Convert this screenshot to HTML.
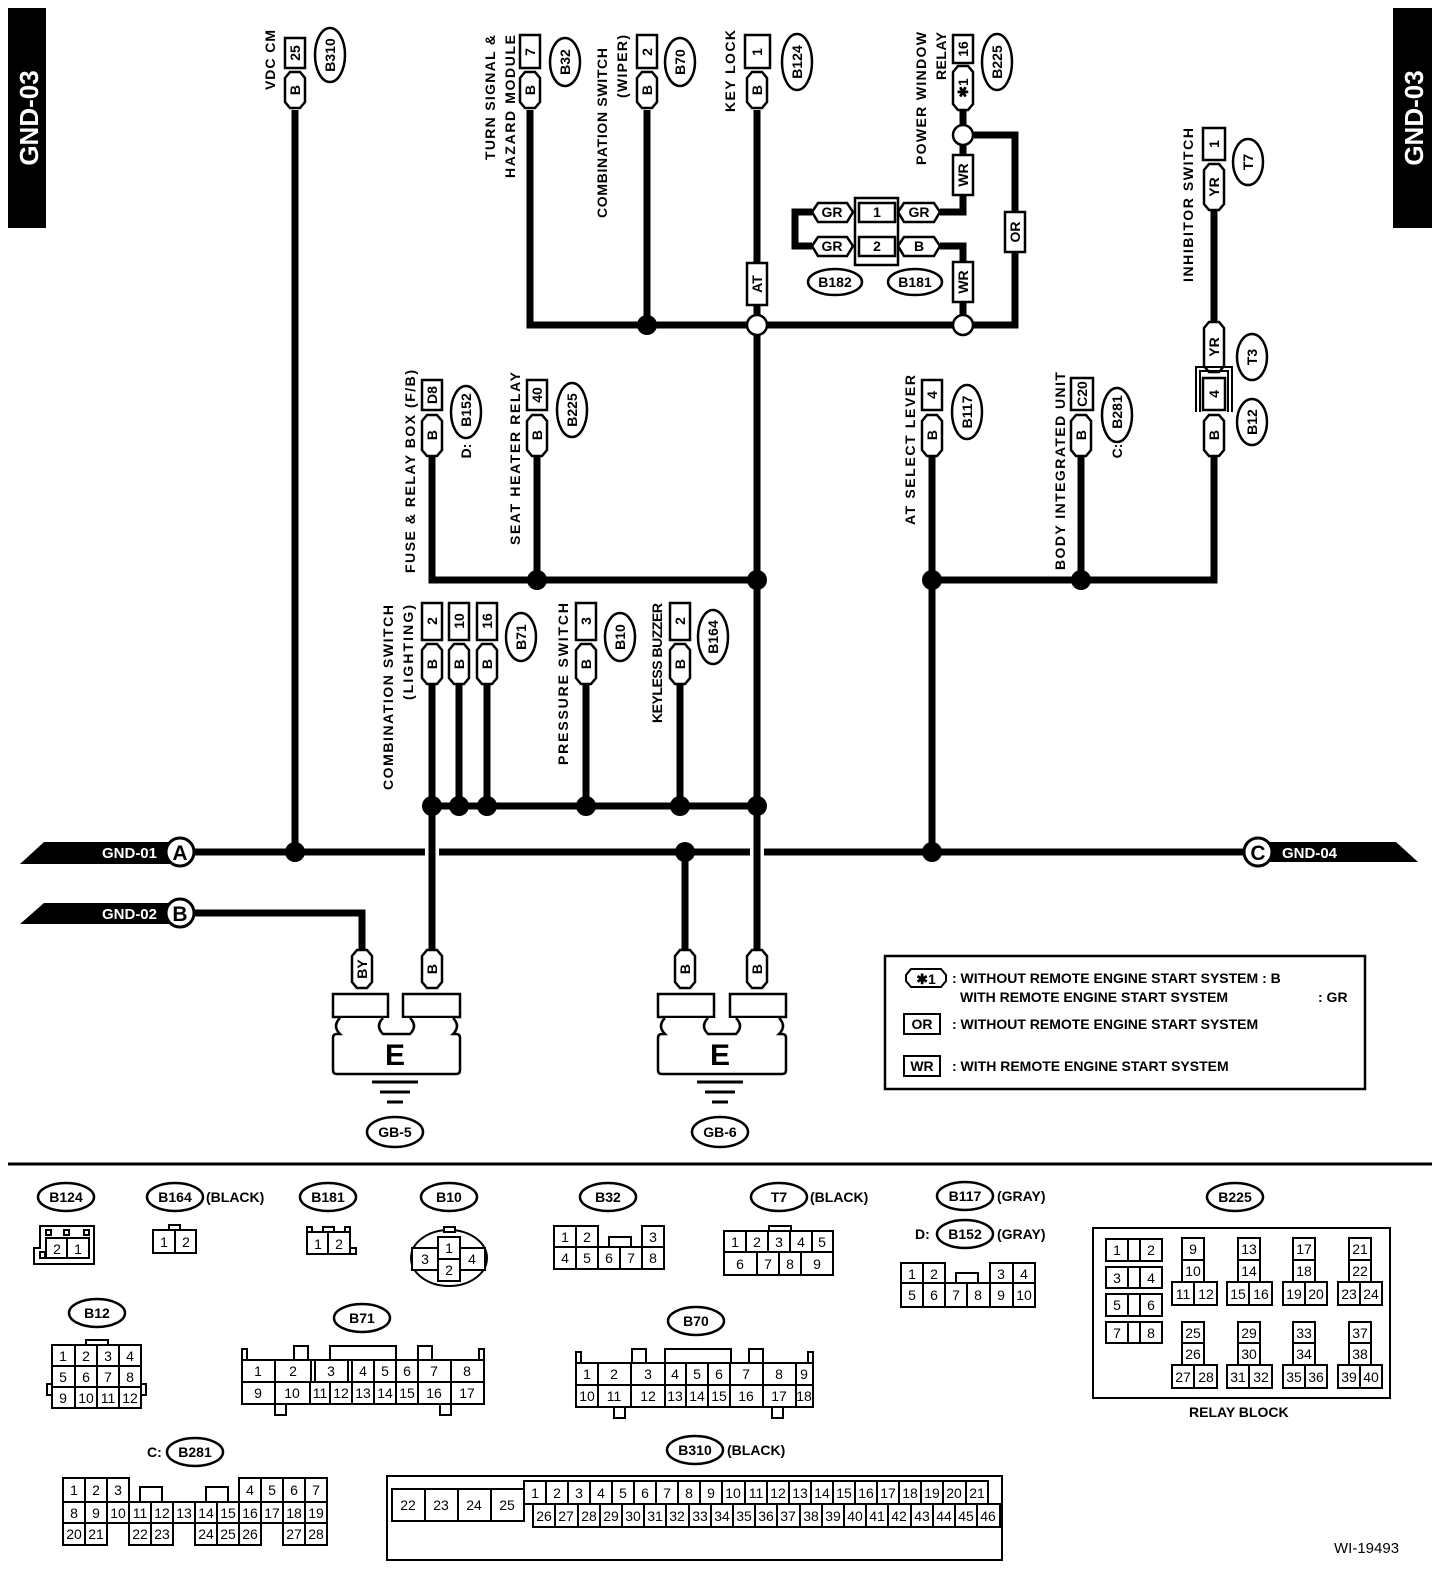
<!DOCTYPE html>
<html><head><meta charset="utf-8"><style>
html,body{margin:0;padding:0;background:#fff}
svg{display:block;font-family:"Liberation Sans",Arial,sans-serif}
.w{stroke:#000;stroke-width:7;fill:none}
.o{stroke:#000;stroke-width:2.5;fill:#fff}
.c{stroke:#000;stroke-width:2;fill:#fff}
.t{font-weight:bold;font-size:14px}
.n{font-size:14px;text-anchor:middle}
.b{font-weight:bold;font-size:14px;text-anchor:middle}
</style></head><body>
<svg width="1456" height="1570" viewBox="0 0 1456 1570" xmlns="http://www.w3.org/2000/svg">
<rect width="1456" height="1570" fill="#fff"/>
<!-- side tabs -->
<rect x="8" y="8" width="38" height="220" fill="#000"/>
<text transform="translate(38,118) rotate(-90)" fill="#fff" font-size="26" font-weight="bold" text-anchor="middle">GND-03</text>
<rect x="1393" y="8" width="39" height="220" fill="#000"/>
<text transform="translate(1423,118) rotate(-90)" fill="#fff" font-size="26" font-weight="bold" text-anchor="middle">GND-03</text>

<!-- WIRES -->
<g class="w">
<path d="M195,852 H425 M439,852 H750 M764,852 H1243"/>
<path d="M195,913 H362 V950"/>
<path d="M295,110 V852"/>
<path d="M530,110 V325 H1015 V135 H974"/>
<path d="M647,110 V325"/>
<path d="M757,110 V950"/>
<path d="M963,110 V212 H940"/>
<path d="M940,246 H963 V325"/>
<path d="M812,212 H795 V246 H812"/>
<path d="M432,456 V580 H757"/>
<path d="M537,456 V580"/>
<path d="M932,456 V852"/>
<path d="M932,580 H1214 V456"/>
<path d="M1081,456 V580"/>
<path d="M1214,210 V322"/>
<path d="M432,684 V950"/>
<path d="M459,684 V806 M487,684 V806 M586,684 V806 M680,684 V806"/>
<path d="M432,806 H757"/>
<path d="M685,852 V950"/>
</g>
<!-- dots -->
<g fill="#000">
<circle cx="295" cy="852" r="10"/><circle cx="647" cy="325" r="10"/>
<circle cx="537" cy="580" r="10"/><circle cx="757" cy="580" r="10"/>
<circle cx="432" cy="806" r="10"/><circle cx="459" cy="806" r="10"/><circle cx="487" cy="806" r="10"/>
<circle cx="586" cy="806" r="10"/><circle cx="680" cy="806" r="10"/><circle cx="757" cy="806" r="10"/>
<circle cx="685" cy="852" r="10"/><circle cx="932" cy="852" r="10"/>
<circle cx="932" cy="580" r="10"/><circle cx="1081" cy="580" r="10"/>
</g>
<g class="o">
<circle cx="757" cy="325" r="10"/><circle cx="963" cy="325" r="10"/><circle cx="963" cy="135" r="10"/>
</g>

<!-- GND flags -->
<polygon points="20,864 44,842 170,842 170,864" fill="#000"/>
<text x="157" y="858" fill="#fff" font-size="15" font-weight="bold" text-anchor="end">GND-01</text>
<circle cx="180" cy="852" r="14" fill="#fff" stroke="#000" stroke-width="3"/>
<text x="180" y="860" font-size="21" font-weight="bold" text-anchor="middle">A</text>
<polygon points="20,924 44,903 170,903 170,924" fill="#000"/>
<text x="157" y="919" fill="#fff" font-size="15" font-weight="bold" text-anchor="end">GND-02</text>
<circle cx="180" cy="913" r="14" fill="#fff" stroke="#000" stroke-width="3"/>
<text x="180" y="921" font-size="21" font-weight="bold" text-anchor="middle">B</text>
<polygon points="1268,842 1396,842 1418,862 1268,862" fill="#000"/>
<text x="1282" y="858" fill="#fff" font-size="15" font-weight="bold">GND-04</text>
<circle cx="1258" cy="852" r="14" fill="#fff" stroke="#000" stroke-width="3"/>
<text x="1258" y="860" font-size="21" font-weight="bold" text-anchor="middle">C</text>

<!-- helper shapes: pin boxes (rect), wire tags (hex) -->
<g class="o">
<!-- top row -->
<rect x="285" y="38" width="20" height="30"/>
<path d="M285,78 l5,-6 h10 l5,6 v24 l-5,6 h-10 l-5,-6z"/>
<rect x="520" y="35" width="20" height="33"/>
<path d="M520,78 l5,-6 h10 l5,6 v24 l-5,6 h-10 l-5,-6z"/>
<rect x="637" y="35" width="20" height="33"/>
<path d="M637,78 l5,-6 h10 l5,6 v24 l-5,6 h-10 l-5,-6z"/>
<rect x="745" y="35" width="25" height="33"/>
<path d="M747,78 l5,-6 h10 l5,6 v24 l-5,6 h-10 l-5,-6z"/>
<rect x="953" y="35" width="20" height="28"/>
<path d="M953,72 l5,-6 h10 l5,6 v32 l-5,6 h-10 l-5,-6z"/>
<rect x="953" y="155" width="20" height="40"/>
<rect x="953" y="262" width="20" height="40"/>
<rect x="1005" y="212" width="20" height="40"/>
<rect x="747" y="263" width="20" height="42"/>
<!-- B182/B181 -->
<path d="M812,212 l6,-9 h29 l6,9 l-6,10 h-29z"/>
<path d="M812,246 l6,-9 h29 l6,9 l-6,10 h-29z"/>
<path d="M898,212 l6,-9 h30 l6,9 l-6,10 h-30z"/>
<path d="M898,246 l6,-9 h30 l6,9 l-6,10 h-30z"/>
<rect x="855" y="198" width="43" height="67"/>
<rect x="859" y="203" width="36" height="19"/>
<rect x="859" y="237" width="36" height="19"/>
<!-- inhibitor -->
<rect x="1203" y="128" width="22" height="32"/>
<path d="M1204,170 l5,-6 h10 l5,6 v34 l-5,6 h-10 l-5,-6z"/>
<path d="M1204,328 l5,-6 h10 l5,6 v38 l-5,6 h-10 l-5,-6z"/>
<rect x="1203" y="378" width="22" height="32"/>
<path d="M1204,421 l5,-6 h10 l5,6 v29 l-5,6 h-10 l-5,-6z"/>
<!-- middle row -->
<rect x="422" y="380" width="20" height="30"/>
<path d="M422,421 l5,-6 h10 l5,6 v29 l-5,6 h-10 l-5,-6z"/>
<rect x="527" y="380" width="20" height="30"/>
<path d="M527,421 l5,-6 h10 l5,6 v29 l-5,6 h-10 l-5,-6z"/>
<rect x="922" y="380" width="20" height="30"/>
<path d="M922,421 l5,-6 h10 l5,6 v29 l-5,6 h-10 l-5,-6z"/>
<rect x="1071" y="378" width="22" height="32"/>
<path d="M1071,421 l5,-6 h10 l5,6 v29 l-5,6 h-10 l-5,-6z"/>
<!-- lower row -->
<rect x="422" y="603" width="20" height="37"/>
<rect x="449" y="603" width="20" height="37"/>
<rect x="477" y="603" width="20" height="37"/>
<path d="M422,650 l5,-6 h10 l5,6 v28 l-5,6 h-10 l-5,-6z"/>
<path d="M449,650 l5,-6 h10 l5,6 v28 l-5,6 h-10 l-5,-6z"/>
<path d="M477,650 l5,-6 h10 l5,6 v28 l-5,6 h-10 l-5,-6z"/>
<rect x="576" y="603" width="20" height="37"/>
<path d="M576,650 l5,-6 h10 l5,6 v28 l-5,6 h-10 l-5,-6z"/>
<rect x="670" y="603" width="20" height="37"/>
<path d="M670,650 l5,-6 h10 l5,6 v28 l-5,6 h-10 l-5,-6z"/>
<!-- ground tags -->
<path d="M352,956 l5,-6 h10 l5,6 v26 l-5,6 h-10 l-5,-6z"/>
<path d="M422,956 l5,-6 h10 l5,6 v26 l-5,6 h-10 l-5,-6z"/>
<path d="M675,956 l5,-6 h10 l5,6 v26 l-5,6 h-10 l-5,-6z"/>
<path d="M747,956 l5,-6 h10 l5,6 v26 l-5,6 h-10 l-5,-6z"/>
<rect x="333" y="994" width="55" height="23"/>
<rect x="403" y="994" width="57" height="23"/>
<rect x="658" y="994" width="56" height="23"/>
<rect x="730" y="994" width="56" height="23"/>
<path d="M340,1018 Q332,1026 340,1034 H337 Q333,1034 333,1038 V1070 Q333,1074 337,1074 H456 Q460,1074 460,1070 V1038 Q460,1034 456,1034 H453 Q461,1026 453,1018 M383,1018 Q375,1026 383,1034 H410 Q418,1026 410,1018"/>
<path d="M665,1018 Q657,1026 665,1034 H662 Q658,1034 658,1038 V1070 Q658,1074 662,1074 H782 Q786,1074 786,1070 V1038 Q786,1034 782,1034 H779 Q787,1026 779,1018 M708,1018 Q700,1026 708,1034 H736 Q744,1026 736,1018"/>
</g>
<!-- bracket at B12 -->
<path d="M1196,412 V367 H1232 V412 M1200,412 V371 H1228 V412" fill="none" stroke="#000" stroke-width="2"/>
<!-- ground symbols -->
<g stroke="#000" stroke-width="3">
<path d="M372,1082 H418 M380,1092 H410 M387,1102 H403"/>
<path d="M697,1082 H743 M705,1092 H735 M712,1102 H728"/>
</g>
<text x="395" y="1065" font-size="30" font-weight="bold" text-anchor="middle">E</text>
<text x="720" y="1065" font-size="30" font-weight="bold" text-anchor="middle">E</text>

<!-- ovals -->
<g fill="#fff" stroke="#000" stroke-width="2.5">
<ellipse cx="330" cy="55" rx="15" ry="27"/>
<ellipse cx="565" cy="62" rx="15" ry="24"/>
<ellipse cx="680" cy="62" rx="15" ry="24"/>
<ellipse cx="797" cy="62" rx="15" ry="28"/>
<ellipse cx="997" cy="62" rx="15" ry="28"/>
<ellipse cx="835" cy="282" rx="27" ry="13"/>
<ellipse cx="915" cy="282" rx="27" ry="13"/>
<ellipse cx="1248" cy="162" rx="15" ry="23"/>
<ellipse cx="1252" cy="357" rx="15" ry="23"/>
<ellipse cx="1252" cy="422" rx="15" ry="23"/>
<ellipse cx="466" cy="412" rx="15" ry="26"/>
<ellipse cx="572" cy="410" rx="15" ry="27"/>
<ellipse cx="967" cy="412" rx="15" ry="27"/>
<ellipse cx="1117" cy="415" rx="15" ry="27"/>
<ellipse cx="521" cy="637" rx="15" ry="24"/>
<ellipse cx="620" cy="637" rx="15" ry="24"/>
<ellipse cx="713" cy="637" rx="15" ry="27"/>
<ellipse cx="395" cy="1132" rx="28" ry="15"/>
<ellipse cx="720" cy="1132" rx="28" ry="15"/>
</g>

<!-- rotated texts: pins/tags -->
<g class="b">
<text transform="translate(300,53) rotate(-90)">25</text>
<text transform="translate(300,90) rotate(-90)">B</text>
<text transform="translate(335,55) rotate(-90)">B310</text>
<text transform="translate(535,52) rotate(-90)">7</text>
<text transform="translate(535,90) rotate(-90)">B</text>
<text transform="translate(570,62) rotate(-90)">B32</text>
<text transform="translate(652,52) rotate(-90)">2</text>
<text transform="translate(652,90) rotate(-90)">B</text>
<text transform="translate(685,62) rotate(-90)">B70</text>
<text transform="translate(762,52) rotate(-90)">1</text>
<text transform="translate(762,90) rotate(-90)">B</text>
<text transform="translate(802,62) rotate(-90)">B124</text>
<text transform="translate(968,49) rotate(-90)">16</text>
<text transform="translate(968,88) rotate(-90)">✱1</text>
<text transform="translate(1002,62) rotate(-90)">B225</text>
<text transform="translate(968,175) rotate(-90)">WR</text>
<text transform="translate(968,282) rotate(-90)">WR</text>
<text transform="translate(1020,232) rotate(-90)">OR</text>
<text transform="translate(762,284) rotate(-90)">AT</text>
<text transform="translate(1219,144) rotate(-90)">1</text>
<text transform="translate(1219,187) rotate(-90)">YR</text>
<text transform="translate(1253,162) rotate(-90)">T7</text>
<text transform="translate(1219,347) rotate(-90)">YR</text>
<text transform="translate(1219,394) rotate(-90)">4</text>
<text transform="translate(1219,435) rotate(-90)">B</text>
<text transform="translate(1257,357) rotate(-90)">T3</text>
<text transform="translate(1257,422) rotate(-90)">B12</text>
<text transform="translate(437,395) rotate(-90)">D8</text>
<text transform="translate(437,435) rotate(-90)">B</text>
<text transform="translate(471,410) rotate(-90)">B152</text>
<text transform="translate(471,451) rotate(-90)">D:</text>
<text transform="translate(542,395) rotate(-90)">40</text>
<text transform="translate(542,435) rotate(-90)">B</text>
<text transform="translate(577,410) rotate(-90)">B225</text>
<text transform="translate(937,395) rotate(-90)">4</text>
<text transform="translate(937,435) rotate(-90)">B</text>
<text transform="translate(972,412) rotate(-90)">B117</text>
<text transform="translate(1087,394) rotate(-90)">C20</text>
<text transform="translate(1086,435) rotate(-90)">B</text>
<text transform="translate(1122,412) rotate(-90)">B281</text>
<text transform="translate(1122,451) rotate(-90)">C:</text>
<text transform="translate(437,621) rotate(-90)">2</text>
<text transform="translate(464,621) rotate(-90)">10</text>
<text transform="translate(492,621) rotate(-90)">16</text>
<text transform="translate(437,664) rotate(-90)">B</text>
<text transform="translate(464,664) rotate(-90)">B</text>
<text transform="translate(492,664) rotate(-90)">B</text>
<text transform="translate(526,637) rotate(-90)">B71</text>
<text transform="translate(591,621) rotate(-90)">3</text>
<text transform="translate(591,664) rotate(-90)">B</text>
<text transform="translate(625,637) rotate(-90)">B10</text>
<text transform="translate(685,621) rotate(-90)">2</text>
<text transform="translate(685,664) rotate(-90)">B</text>
<text transform="translate(718,637) rotate(-90)">B164</text>
<text transform="translate(367,969) rotate(-90)">BY</text>
<text transform="translate(437,969) rotate(-90)">B</text>
<text transform="translate(690,969) rotate(-90)">B</text>
<text transform="translate(762,969) rotate(-90)">B</text>
</g>
<g class="b">
<text x="832" y="217">GR</text><text x="832" y="251">GR</text>
<text x="877" y="217">1</text><text x="877" y="251">2</text>
<text x="919" y="217">GR</text><text x="919" y="251">B</text>
<text x="835" y="287">B182</text><text x="915" y="287">B181</text>
<text x="395" y="1137">GB-5</text><text x="720" y="1137">GB-6</text>
</g>

<!-- rotated labels -->
<g class="t">
<text transform="translate(275,90) rotate(-90)" textLength="60">VDC CM</text>
<text transform="translate(495,160) rotate(-90)" textLength="125">TURN SIGNAL &amp;</text>
<text transform="translate(515,178) rotate(-90)" textLength="143">HAZARD MODULE</text>
<text transform="translate(607,218) rotate(-90)" textLength="170">COMBINATION SWITCH</text>
<text transform="translate(627,98) rotate(-90)" textLength="63">(WIPER)</text>
<text transform="translate(735,112) rotate(-90)" textLength="82">KEY LOCK</text>
<text transform="translate(926,165) rotate(-90)" textLength="133">POWER WINDOW</text>
<text transform="translate(946,80) rotate(-90)" textLength="48">RELAY</text>
<text transform="translate(1193,282) rotate(-90)" textLength="154">INHIBITOR SWITCH</text>
<text transform="translate(415,573) rotate(-90)" textLength="203">FUSE &amp; RELAY BOX (F/B)</text>
<text transform="translate(520,545) rotate(-90)" textLength="173">SEAT HEATER RELAY</text>
<text transform="translate(915,525) rotate(-90)" textLength="150">AT SELECT LEVER</text>
<text transform="translate(1065,570) rotate(-90)" textLength="198">BODY INTEGRATED UNIT</text>
<text transform="translate(393,790) rotate(-90)" textLength="185">COMBINATION SWITCH</text>
<text transform="translate(413,700) rotate(-90)" textLength="95">(LIGHTING)</text>
<text transform="translate(568,765) rotate(-90)" textLength="162">PRESSURE SWITCH</text>
<text transform="translate(662,723) rotate(-90)" textLength="120">KEYLESS BUZZER</text>
</g>

<!-- legend -->
<rect x="885" y="956" width="480" height="133" fill="none" stroke="#000" stroke-width="2.5"/>
<path d="M906,975 l5,-6 h30 l5,6 v6 l-5,6 h-30 l-5,-6z" fill="#fff" stroke="#000" stroke-width="2"/>
<text x="926" y="984" class="b">✱1</text>
<rect x="904" y="1014" width="36" height="20" fill="#fff" stroke="#000" stroke-width="2"/>
<text x="922" y="1029" class="b">OR</text>
<rect x="904" y="1056" width="36" height="20" fill="#fff" stroke="#000" stroke-width="2"/>
<text x="922" y="1071" class="b">WR</text>
<g class="t" font-size="15">
<text x="952" y="983">: WITHOUT REMOTE ENGINE START SYSTEM : B</text>
<text x="960" y="1002">WITH REMOTE ENGINE START SYSTEM</text>
<text x="1318" y="1002">: GR</text>
<text x="952" y="1029">: WITHOUT REMOTE ENGINE START SYSTEM</text>
<text x="952" y="1071">: WITH REMOTE ENGINE START SYSTEM</text>
</g>

<!-- separator -->
<path d="M8,1164 H1432" stroke="#000" stroke-width="3"/>

<!-- bottom connector ovals & titles -->
<g fill="#fff" stroke="#000" stroke-width="2.5">
<ellipse cx="66" cy="1197" rx="28" ry="14"/>
<ellipse cx="175" cy="1197" rx="28" ry="14"/>
<ellipse cx="328" cy="1197" rx="28" ry="14"/>
<ellipse cx="449" cy="1197" rx="28" ry="14"/>
<ellipse cx="608" cy="1197" rx="28" ry="14"/>
<ellipse cx="779" cy="1197" rx="28" ry="14"/>
<ellipse cx="965" cy="1196" rx="28" ry="14"/>
<ellipse cx="965" cy="1234" rx="28" ry="14"/>
<ellipse cx="1235" cy="1197" rx="28" ry="14"/>
<ellipse cx="97" cy="1313" rx="28" ry="14"/>
<ellipse cx="362" cy="1318" rx="28" ry="14"/>
<ellipse cx="696" cy="1321" rx="28" ry="14"/>
<ellipse cx="195" cy="1452" rx="28" ry="14"/>
<ellipse cx="695" cy="1450" rx="28" ry="14"/>
</g>
<g class="b">
<text x="66" y="1202">B124</text><text x="175" y="1202">B164</text><text x="328" y="1202">B181</text>
<text x="449" y="1202">B10</text><text x="608" y="1202">B32</text><text x="779" y="1202">T7</text>
<text x="965" y="1201">B117</text><text x="965" y="1239">B152</text><text x="1235" y="1202">B225</text>
<text x="97" y="1318">B12</text><text x="362" y="1323">B71</text><text x="696" y="1326">B70</text>
<text x="195" y="1457">B281</text><text x="695" y="1455">B310</text>
</g>
<g class="t">
<text x="206" y="1202">(BLACK)</text><text x="810" y="1202">(BLACK)</text>
<text x="997" y="1201">(GRAY)</text><text x="997" y="1239">(GRAY)</text>
<text x="915" y="1239">D:</text><text x="147" y="1457">C:</text>
<text x="727" y="1455">(BLACK)</text>
<text x="1189" y="1417">RELAY BLOCK</text>
<text x="1334" y="1553" font-weight="normal" font-size="15">WI-19493</text>
</g>

<!-- bottom connector grids -->
<g class="c">
<!-- B124 -->
<path d="M40,1226 H94 V1264 H34 V1248 H40 Z"/>
<rect x="46" y="1238" width="21" height="20"/><rect x="67" y="1238" width="22" height="20"/>
<rect x="46" y="1230" width="5" height="5"/><rect x="64" y="1230" width="5" height="5"/><rect x="84" y="1230" width="5" height="5"/><rect x="40" y="1252" width="5" height="6"/>
<!-- B164 -->
<rect x="169" y="1225" width="11" height="5"/>
<rect x="153" y="1230" width="22" height="23"/><rect x="175" y="1230" width="21" height="23"/>
<!-- B181 -->
<rect x="307" y="1227" width="5" height="5"/><rect x="323" y="1227" width="11" height="5"/><rect x="345" y="1227" width="5" height="5"/>
<rect x="307" y="1232" width="21" height="22"/><rect x="328" y="1232" width="22" height="22"/><rect x="350" y="1248" width="6" height="6"/>
<!-- B10 -->
<ellipse cx="449" cy="1258" rx="38" ry="28"/>
<rect x="444" y="1227" width="11" height="5"/>
<rect x="438" y="1237" width="22" height="22"/><rect x="438" y="1259" width="22" height="22"/>
<rect x="412" y="1248" width="26" height="22"/><rect x="460" y="1248" width="25" height="22"/>
<!-- B32 -->
<rect x="554" y="1226" width="22" height="21"/><rect x="576" y="1226" width="22" height="21"/><rect x="642" y="1226" width="22" height="21"/>
<rect x="609" y="1237" width="22" height="10"/>
<rect x="554" y="1247" width="22" height="22"/><rect x="576" y="1247" width="22" height="22"/><rect x="598" y="1247" width="22" height="22"/><rect x="620" y="1247" width="22" height="22"/><rect x="642" y="1247" width="22" height="22"/>
<!-- T7 -->
<rect x="769" y="1226" width="22" height="5"/>
<rect x="724" y="1231" width="109" height="44"/>
<path d="M724,1252 H833 M746,1231 V1252 M768,1231 V1252 M790,1231 V1252 M812,1231 V1252 M757,1252 V1275 M779,1252 V1275 M801,1252 V1275" fill="none"/>
<!-- B152 -->
<rect x="901" y="1263" width="22" height="20"/><rect x="923" y="1263" width="22" height="20"/><rect x="990" y="1263" width="23" height="20"/><rect x="1013" y="1263" width="22" height="20"/>
<rect x="956" y="1273" width="22" height="10"/>
<rect x="901" y="1283" width="134" height="24"/>
<path d="M923,1283 V1307 M945,1283 V1307 M967,1283 V1307 M990,1283 V1307 M1013,1283 V1307" fill="none"/>
<!-- B12 -->
<rect x="86" y="1340" width="22" height="5"/>
<rect x="47" y="1384" width="5" height="11"/><rect x="141" y="1384" width="5" height="11"/>
<rect x="52" y="1345" width="89" height="63"/>
<path d="M52,1366 H141 M52,1387 H141 M75,1345 V1408 M97,1345 V1408 M119,1345 V1408" fill="none"/>
<!-- B71 -->
<rect x="242" y="1349" width="5" height="11"/><rect x="294" y="1346" width="14" height="14"/><rect x="330" y="1346" width="66" height="14"/><rect x="418" y="1346" width="14" height="14"/><rect x="479" y="1349" width="5" height="11"/>
<rect x="275" y="1404" width="11" height="11"/><rect x="440" y="1404" width="11" height="11"/>
<rect x="242" y="1360" width="242" height="44"/>
<path d="M242,1382 H484 M275,1360 V1404 M311,1360 V1382 M315,1360 V1382 M348,1360 V1382 M352,1360 V1404 M310,1382 V1404 M330,1382 V1404 M374,1360 V1404 M396,1360 V1404 M418,1360 V1404 M451,1360 V1404" fill="none"/>
<!-- B70 -->
<rect x="576" y="1352" width="5" height="11"/><rect x="632" y="1349" width="14" height="14"/><rect x="665" y="1349" width="66" height="14"/><rect x="749" y="1349" width="14" height="14"/><rect x="808" y="1352" width="5" height="11"/>
<rect x="614" y="1407" width="11" height="11"/><rect x="772" y="1407" width="11" height="11"/>
<rect x="576" y="1363" width="237" height="44"/>
<path d="M576,1385 H813 M598,1363 V1407 M631,1363 V1407 M665,1363 V1407 M686,1363 V1407 M708,1363 V1407 M730,1363 V1407 M763,1363 V1407 M796,1363 V1407" fill="none"/>
<!-- B281 -->
<rect x="140" y="1487" width="22" height="15"/><rect x="206" y="1487" width="22" height="15"/>
<rect x="63" y="1478" width="66" height="24"/><rect x="239" y="1478" width="88" height="24"/>
<rect x="63" y="1502" width="264" height="21"/>
<rect x="63" y="1523" width="44" height="22"/><rect x="129" y="1523" width="44" height="22"/><rect x="195" y="1523" width="66" height="22"/><rect x="283" y="1523" width="44" height="22"/>
<path d="M85,1478 V1545 M107,1478 V1523 M129,1502 V1523 M151,1502 V1545 M173,1502 V1523 M195,1502 V1523 M217,1502 V1545 M239,1502 V1545 M261,1478 V1523 M283,1478 V1523 M305,1478 V1545" fill="none"/>
<!-- B225 relay block -->
<rect x="1093" y="1228" width="297" height="170"/>
<rect x="1106" y="1239" width="56" height="22"/><rect x="1106" y="1267" width="56" height="21"/><rect x="1106" y="1294" width="56" height="22"/><rect x="1106" y="1322" width="56" height="21"/>
<path d="M1128,1239 V1261 M1140,1239 V1261 M1128,1267 V1288 M1140,1267 V1288 M1128,1294 V1316 M1140,1294 V1316 M1128,1322 V1343 M1140,1322 V1343" fill="none"/>
<rect x="1182" y="1238" width="22" height="44"/><rect x="1172" y="1282" width="45" height="23"/><path d="M1182,1260 H1204 M1194,1282 V1305" fill="none"/>
<rect x="1238" y="1238" width="22" height="44"/><rect x="1227" y="1282" width="45" height="23"/><path d="M1238,1260 H1260 M1249,1282 V1305" fill="none"/>
<rect x="1293" y="1238" width="22" height="44"/><rect x="1283" y="1282" width="44" height="23"/><path d="M1293,1260 H1315 M1305,1282 V1305" fill="none"/>
<rect x="1349" y="1238" width="22" height="44"/><rect x="1338" y="1282" width="44" height="23"/><path d="M1349,1260 H1371 M1360,1282 V1305" fill="none"/>
<rect x="1182" y="1322" width="22" height="43"/><rect x="1172" y="1365" width="45" height="23"/><path d="M1182,1343 H1204 M1194,1365 V1388" fill="none"/>
<rect x="1238" y="1322" width="22" height="43"/><rect x="1227" y="1365" width="45" height="23"/><path d="M1238,1343 H1260 M1249,1365 V1388" fill="none"/>
<rect x="1293" y="1322" width="22" height="43"/><rect x="1283" y="1365" width="44" height="23"/><path d="M1293,1343 H1315 M1305,1365 V1388" fill="none"/>
<rect x="1349" y="1322" width="22" height="43"/><rect x="1338" y="1365" width="44" height="23"/><path d="M1349,1343 H1371 M1360,1365 V1388" fill="none"/>
<!-- B310 -->
<rect x="387" y="1476" width="615" height="84"/>
<rect x="392" y="1489" width="132" height="32"/>
<path d="M425,1489 V1521 M458,1489 V1521 M491,1489 V1521" fill="none"/>
<rect x="524" y="1481" width="464" height="23"/>
<rect x="533" y="1504" width="467" height="23"/>
<path d="M546,1481 V1504 M568,1481 V1504 M590,1481 V1504 M612,1481 V1504 M634,1481 V1504 M656,1481 V1504 M678,1481 V1504 M700,1481 V1504 M722,1481 V1504 M745,1481 V1504 M767,1481 V1504 M789,1481 V1504 M811,1481 V1504 M833,1481 V1504 M855,1481 V1504 M877,1481 V1504 M899,1481 V1504 M921,1481 V1504 M943,1481 V1504 M966,1481 V1504" fill="none"/>
<path d="M555,1504 V1527 M578,1504 V1527 M600,1504 V1527 M622,1504 V1527 M644,1504 V1527 M666,1504 V1527 M689,1504 V1527 M711,1504 V1527 M733,1504 V1527 M755,1504 V1527 M777,1504 V1527 M800,1504 V1527 M822,1504 V1527 M844,1504 V1527 M866,1504 V1527 M888,1504 V1527 M911,1504 V1527 M933,1504 V1527 M955,1504 V1527 M977,1504 V1527" fill="none"/>
</g>

<!-- bottom numbers -->
<g class="n">
<text x="57" y="1254">2</text><text x="78" y="1254">1</text>
<text x="164" y="1247">1</text><text x="186" y="1247">2</text>
<text x="318" y="1249">1</text><text x="339" y="1249">2</text>
<text x="449" y="1253">1</text><text x="449" y="1275">2</text><text x="425" y="1264">3</text><text x="472" y="1264">4</text>
<text x="565" y="1242">1</text><text x="587" y="1242">2</text><text x="653" y="1242">3</text>
<text x="565" y="1263">4</text><text x="587" y="1263">5</text><text x="609" y="1263">6</text><text x="631" y="1263">7</text><text x="653" y="1263">8</text>
<text x="735" y="1247">1</text><text x="757" y="1247">2</text><text x="779" y="1247">3</text><text x="801" y="1247">4</text><text x="822" y="1247">5</text>
<text x="740" y="1269">6</text><text x="768" y="1269">7</text><text x="790" y="1269">8</text><text x="817" y="1269">9</text>
<text x="912" y="1279">1</text><text x="934" y="1279">2</text><text x="1001" y="1279">3</text><text x="1024" y="1279">4</text>
<text x="912" y="1300">5</text><text x="934" y="1300">6</text><text x="956" y="1300">7</text><text x="978" y="1300">8</text><text x="1001" y="1300">9</text><text x="1024" y="1300">10</text>
<text x="63" y="1361">1</text><text x="86" y="1361">2</text><text x="108" y="1361">3</text><text x="130" y="1361">4</text>
<text x="63" y="1382">5</text><text x="86" y="1382">6</text><text x="108" y="1382">7</text><text x="130" y="1382">8</text>
<text x="63" y="1403">9</text><text x="86" y="1403">10</text><text x="108" y="1403">11</text><text x="130" y="1403">12</text>
<text x="258" y="1376">1</text><text x="293" y="1376">2</text><text x="331" y="1376">3</text><text x="363" y="1376">4</text><text x="385" y="1376">5</text><text x="407" y="1376">6</text><text x="434" y="1376">7</text><text x="467" y="1376">8</text>
<text x="258" y="1398">9</text><text x="292" y="1398">10</text><text x="320" y="1398">11</text><text x="341" y="1398">12</text><text x="363" y="1398">13</text><text x="385" y="1398">14</text><text x="407" y="1398">15</text><text x="434" y="1398">16</text><text x="467" y="1398">17</text>
<text x="587" y="1379">1</text><text x="614" y="1379">2</text><text x="648" y="1379">3</text><text x="675" y="1379">4</text><text x="697" y="1379">5</text><text x="719" y="1379">6</text><text x="746" y="1379">7</text><text x="779" y="1379">8</text><text x="804" y="1379">9</text>
<text x="587" y="1401">10</text><text x="614" y="1401">11</text><text x="648" y="1401">12</text><text x="675" y="1401">13</text><text x="697" y="1401">14</text><text x="719" y="1401">15</text><text x="746" y="1401">16</text><text x="779" y="1401">17</text><text x="804" y="1401">18</text>
<text x="74" y="1495">1</text><text x="96" y="1495">2</text><text x="118" y="1495">3</text><text x="250" y="1495">4</text><text x="272" y="1495">5</text><text x="294" y="1495">6</text><text x="316" y="1495">7</text>
<text x="74" y="1518">8</text><text x="96" y="1518">9</text><text x="118" y="1518">10</text><text x="140" y="1518">11</text><text x="162" y="1518">12</text><text x="184" y="1518">13</text><text x="206" y="1518">14</text><text x="228" y="1518">15</text><text x="250" y="1518">16</text><text x="272" y="1518">17</text><text x="294" y="1518">18</text><text x="316" y="1518">19</text>
<text x="74" y="1539">20</text><text x="96" y="1539">21</text><text x="140" y="1539">22</text><text x="162" y="1539">23</text><text x="206" y="1539">24</text><text x="228" y="1539">25</text><text x="250" y="1539">26</text><text x="294" y="1539">27</text><text x="316" y="1539">28</text>
<text x="1117" y="1255">1</text><text x="1151" y="1255">2</text><text x="1117" y="1283">3</text><text x="1151" y="1283">4</text><text x="1117" y="1310">5</text><text x="1151" y="1310">6</text><text x="1117" y="1338">7</text><text x="1151" y="1338">8</text>
<text x="1193" y="1254">9</text><text x="1193" y="1276">10</text><text x="1183" y="1299">11</text><text x="1206" y="1299">12</text>
<text x="1249" y="1254">13</text><text x="1249" y="1276">14</text><text x="1238" y="1299">15</text><text x="1261" y="1299">16</text>
<text x="1304" y="1254">17</text><text x="1304" y="1276">18</text><text x="1294" y="1299">19</text><text x="1316" y="1299">20</text>
<text x="1360" y="1254">21</text><text x="1360" y="1276">22</text><text x="1349" y="1299">23</text><text x="1371" y="1299">24</text>
<text x="1193" y="1338">25</text><text x="1193" y="1359">26</text><text x="1183" y="1382">27</text><text x="1206" y="1382">28</text>
<text x="1249" y="1338">29</text><text x="1249" y="1359">30</text><text x="1238" y="1382">31</text><text x="1261" y="1382">32</text>
<text x="1304" y="1338">33</text><text x="1304" y="1359">34</text><text x="1294" y="1382">35</text><text x="1316" y="1382">36</text>
<text x="1360" y="1338">37</text><text x="1360" y="1359">38</text><text x="1349" y="1382">39</text><text x="1371" y="1382">40</text>
<text x="408" y="1510">22</text><text x="441" y="1510">23</text><text x="474" y="1510">24</text><text x="507" y="1510">25</text>
</g>
<g class="n" font-size="13">
<text x="535" y="1498">1</text><text x="557" y="1498">2</text><text x="579" y="1498">3</text><text x="601" y="1498">4</text><text x="623" y="1498">5</text><text x="645" y="1498">6</text><text x="667" y="1498">7</text><text x="689" y="1498">8</text><text x="711" y="1498">9</text><text x="733" y="1498">10</text><text x="756" y="1498">11</text><text x="778" y="1498">12</text><text x="800" y="1498">13</text><text x="822" y="1498">14</text><text x="844" y="1498">15</text><text x="866" y="1498">16</text><text x="888" y="1498">17</text><text x="910" y="1498">18</text><text x="932" y="1498">19</text><text x="954" y="1498">20</text><text x="977" y="1498">21</text>
<text x="544" y="1521">26</text><text x="566" y="1521">27</text><text x="589" y="1521">28</text><text x="611" y="1521">29</text><text x="633" y="1521">30</text><text x="655" y="1521">31</text><text x="677" y="1521">32</text><text x="700" y="1521">33</text><text x="722" y="1521">34</text><text x="744" y="1521">35</text><text x="766" y="1521">36</text><text x="788" y="1521">37</text><text x="811" y="1521">38</text><text x="833" y="1521">39</text><text x="855" y="1521">40</text><text x="877" y="1521">41</text><text x="899" y="1521">42</text><text x="922" y="1521">43</text><text x="944" y="1521">44</text><text x="966" y="1521">45</text><text x="988" y="1521">46</text>
</g>
</svg>
</body></html>
